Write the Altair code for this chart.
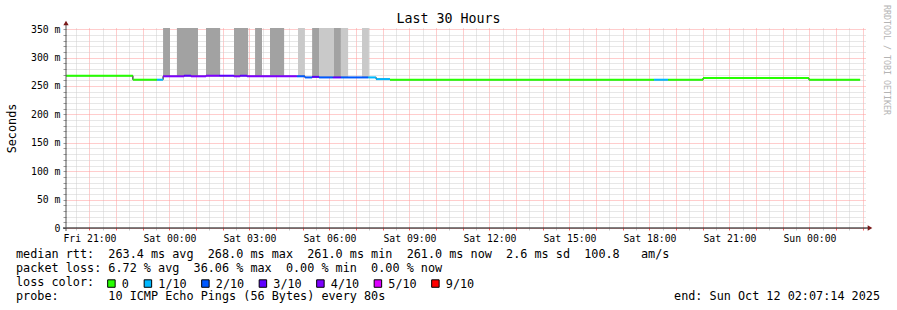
import altair as alt
import pandas as pd

MONO = "DejaVu Sans Mono"

# ---------------- data (time = hours since Fri 00:00) ----------------
start_h = 20 + 7 / 60 + 14 / 3600          # Fri 20:07:14
end_h = start_h + 30                       # Sun 02:07:14

seg_start = [20.12, 22.63, 23.53, 23.76, 24.55, 24.81, 25.37, 25.86, 26.42, 26.65,
             26.91, 28.78, 29.08, 29.35, 29.61, 30.13, 30.43, 31.45, 31.75, 32.27,
             42.17, 42.70, 44.01, 47.98]
seg_end = [22.63, 23.53, 23.76, 24.55, 24.81, 25.37, 25.86, 26.42, 26.65, 26.91,
           28.78, 29.08, 29.35, 29.61, 30.13, 30.43, 31.45, 31.75, 32.27, 42.17,
           42.70, 44.01, 47.98, 49.90]
seg_rtt = [268, 261, 261, 267, 268, 267, 268, 268, 267, 268,
           267, 267, 265, 266, 265, 265, 265, 265, 262, 261,
           261, 261, 264, 261]
seg_loss = ["0", "0", "1/10", "4/10", "3/10", "4/10", "4/10", "3/10", "4/10", "3/10",
            "4/10", "2/10", "2/10", "3/10", "2/10", "3/10", "2/10", "1/10", "1/10", "0",
            "1/10", "0", "0", "0"]

smoke_start = [23.76, 24.28, 25.37, 26.42, 27.21, 27.77, 28.82, 29.35, 29.61, 30.17, 30.43, 31.22]
smoke_end = [24.02, 25.07, 25.90, 26.95, 27.47, 28.30, 29.08, 29.61, 30.17, 30.43, 30.70, 31.48]
smoke_lo = [268, 268, 268, 268, 268, 268, 267, 266, 265, 265, 265, 265]
smoke_hi = [360] * 12
smoke_shade = ["dark", "dark", "dark", "dark", "dark", "dark",
               "light", "dark", "light", "dark", "light", "light"]

loss_labels = ["0", "1/10", "2/10", "3/10", "4/10", "5/10", "9/10"]
loss_colors = ["#26ff00", "#00b8ff", "#0059ff", "#5e00ff", "#7e00ff", "#dd00ff", "#ff0000"]

rtt_avg, rtt_max, rtt_min, rtt_now, rtt_sd, am_s = 263.4, 268.0, 261.0, 261.0, 2.6, 100.8
loss_avg, loss_max, loss_min, loss_now = 6.72, 36.06, 0.00, 0.00
probe_text = "10 ICMP Echo Pings (56 Bytes) every 80s"
end_text = "end: Sun Oct 12 02:07:14 2025"
title_text = "Last 30 Hours"

x_ticks = [20.5 + 0.5 * i for i in range(60)]
y_ticks = list(range(0, 351, 10))

# ---------------- frames ----------------
segs = pd.DataFrame({"t0": seg_start, "t1": seg_end, "rtt": seg_rtt, "loss": seg_loss})
steps = pd.DataFrame({"t0": seg_start + [seg_end[-1]], "rtt": seg_rtt + [seg_rtt[-1]]})
smoke = pd.DataFrame({"t0": smoke_start, "t1": smoke_end, "rtt": smoke_lo, "hi": smoke_hi,
                      "shade": smoke_shade})
legend_df = pd.DataFrame({"loss": loss_labels})
one = pd.DataFrame({"k": [0]})


def nb(s):
    return s.replace(" ", "\u00a0")


line1 = nb(f"median rtt:  {rtt_avg:.1f} ms avg  {rtt_max:.1f} ms max  {rtt_min:.1f} ms min  "
           f"{rtt_now:.1f} ms now  {rtt_sd:.1f} ms sd  {am_s:.1f}   am/s")
line2 = nb(f"packet loss: {loss_avg:.2f} % avg  {loss_max:.2f} % max  {loss_min:.2f} % min  "
           f"{loss_now:.2f} % now")
line3 = nb("loss color:")
line4 = nb(f"probe:       {probe_text}")

x_label_expr = ("datum.value % 3 === 0 ? ((datum.value < 24 ? 'Fri' : datum.value < 48 ? 'Sat' : 'Sun')"
                " + ' ' + (datum.value % 24 < 10 ? '0' : '') + (datum.value % 24) + ':00') : ''")
y_label_expr = "datum.value % 50 === 0 ? (datum.value === 0 ? '0' : datum.value + ' m') : ''"

xscale = alt.Scale(domain=[start_h, end_h], nice=False, zero=False)
yscale = alt.Scale(domain=[0, 352], nice=False, zero=False)

x_axis = alt.Axis(
    values=x_ticks, title=None, labelExpr=x_label_expr, labelOverlap=False,
    labelFlush=False, labelBound=False, labelFont=MONO, labelFontSize=9.8, labelColor="#000",
    labelPadding=3, tickSize=2,
    tickColor={"condition": {"test": "datum.value % 1 === 0", "value": "#ff6060"}, "value": "#c8c8c8"},
    grid=True, gridDash=[1, 1], gridWidth=1,
    gridColor={"condition": {"test": "datum.value % 1 === 0", "value": "#ff9a9a"}, "value": "#cfcfcf"},
    domain=False,
)
y_axis = alt.Axis(
    values=y_ticks, title="Seconds", labelExpr=y_label_expr, labelOverlap=False,
    labelFlush=False, labelBound=False, labelFont=MONO, labelFontSize=9.8, labelColor="#000",
    labelPadding=3, tickSize=3, tickColor="#999",
    grid=True, gridDash=[1, 1], gridWidth=1,
    gridColor={"condition": {"test": "datum.value % 50 === 0", "value": "#ff9a9a"}, "value": "#cfcfcf"},
    domain=False,
    titleFont=MONO, titleFontSize=11.8, titleFontWeight="normal", titleColor="#000",
    titleX=-55, titleY=100, titleAngle=270, titleAlign="center", titleBaseline="middle",
)


def X(field="t0"):
    return alt.X(f"{field}:Q", scale=xscale, axis=x_axis)


def Y(field="rtt"):
    return alt.Y(f"{field}:Q", scale=yscale, axis=y_axis)


smoke_layer = alt.Chart(smoke).mark_rect(clip=True).encode(
    x=X(), x2="t1:Q", y=Y(), y2="hi:Q",
    fill=alt.Fill("shade:N", scale=alt.Scale(domain=["dark", "light"], range=["#a2a2a2", "#c9c9c9"]),
                  legend=None),
)

step_layer = alt.Chart(steps).mark_line(interpolate="step-after", color="#000", strokeWidth=1).encode(
    x=X(), y=Y(), order="t0:Q",
)

color_scale = alt.Scale(domain=loss_labels, range=loss_colors)

seg_layer = alt.Chart(segs).mark_rule(strokeWidth=2).encode(
    x=X(), x2="t1:Q", y=Y(),
    color=alt.Color("loss:N", scale=color_scale, legend=None),
)

legend_layer = alt.Chart(legend_df).mark_square(opacity=1, stroke="#000", strokeWidth=1).encode(
    x=alt.value(0),
    y=alt.value(-2000),
    color=alt.Color("loss:N", scale=color_scale, legend=alt.Legend(
        title=None, orient="none", legendX=39.5, legendY=249.5, direction="horizontal",
        symbolType="square", symbolSize=56, symbolStrokeColor="#000",
        symbolStrokeWidth=1, symbolOpacity=1, labelFont=MONO, labelFontSize=11.8, labelColor="#000",
        gridAlign="each", columnPadding=12.5, labelOffset=4.5, padding=0,
    )),
)


def txt(text, x, y, size=11.8, align="left", color="#000", angle=0):
    return alt.Chart(one).mark_text(text=text, font=MONO, fontSize=size, align=align,
                                    baseline="middle", color=color, angle=angle).encode(
        x=alt.value(x), y=alt.value(y))


axis_lines = [
    alt.Chart(one).mark_rule(color="#000", strokeWidth=1).encode(
        x=alt.value(-3), x2=alt.value(804), y=alt.value(200)),
    alt.Chart(one).mark_rule(color="#555", strokeWidth=1).encode(
        x=alt.value(0), y=alt.value(203), y2=alt.value(-5)),
    alt.Chart(one).mark_point(shape="triangle-up", filled=True, color="#7a1a1a", size=28, opacity=1).encode(
        x=alt.value(0), y=alt.value(-5)),
    alt.Chart(one).mark_point(shape="triangle-right", filled=True, color="#7a1a1a", size=28, opacity=1).encode(
        x=alt.value(804), y=alt.value(200)),
]

texts = [
    txt(title_text, 382.5, -9, size=13.3, align="center"),
    txt(line1, -50, 226),
    txt(line2, -50, 240),
    txt(line3, -50, 254),
    txt(line4, -50, 268),
    txt(nb(end_text), 814, 268, align="right"),
    txt("RRDTOOL / TOBI OETIKER", 820, 32, size=8.3, align="center", color="#b4b4b4", angle=90),
]

chart = alt.layer(
    smoke_layer, step_layer, seg_layer, legend_layer, *axis_lines, *texts
).resolve_legend(color="independent").properties(
    width=800, height=200,
    autosize=alt.AutoSizeParams(type="none"),
    padding={"left": 66, "top": 28, "right": 31, "bottom": 82},
    background="#ffffff",
).configure_view(stroke=None)

chart.save("out.html", embed_options={"renderer": "svg", "actions": False})
